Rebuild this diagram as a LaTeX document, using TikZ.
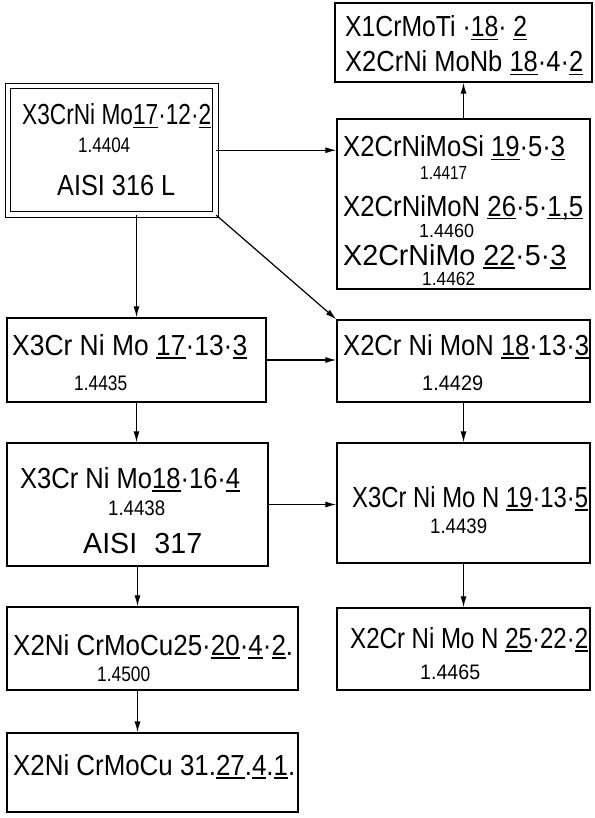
\documentclass[tikz,border=0pt]{standalone}
\usepackage{fontspec}
\setmainfont{Liberation Sans}
\usetikzlibrary{arrows.meta}
\newcommand\uln[1]{\setbox0\hbox{#1}\rlap{\rule[-3.5pt]{\wd0}{1.2pt}}\box0}
\newcommand\fw[2]{\resizebox{#1}{\height}{#2}}
\begin{document}
\begin{tikzpicture}[x=1pt,y=-1pt,
  box/.style={draw,line width=1.3pt,inner sep=0pt},
  big/.style={inner sep=0pt,anchor=base west,font=\fontsize{29}{31}\selectfont},
  small/.style={inner sep=0pt,anchor=base west,font=\fontsize{21}{23}\selectfont},
  smaller/.style={inner sep=0pt,anchor=base west,font=\fontsize{19}{21}\selectfont},
  arr/.style={line width=1.2pt,-{Latex[length=11pt,width=6pt]}}]
\useasboundingbox (0,0) rectangle (594,818);
% boxes
\node[box,double,double distance=4.2pt,minimum width=207.5pt,minimum height=128.5pt] (b1) at (111.75,150.25) {};
\node[box,minimum width=257pt,minimum height=79pt] (b2) at (463.5,42.5) {};
\node[box,minimum width=253pt,minimum height=170pt] (b3) at (463.5,204) {};
\node[box,minimum width=259pt,minimum height=84pt] (b5) at (136.5,360) {};
\node[box,minimum width=253pt,minimum height=82pt] (b6) at (463.5,361) {};
\node[box,minimum width=261pt,minimum height=123pt] (b7) at (137.5,504.5) {};
\node[box,minimum width=253pt,minimum height=120pt] (b8) at (463.5,503) {};
\node[box,minimum width=291pt,minimum height=83pt] (b9) at (152.5,648.5) {};
\node[box,minimum width=253pt,minimum height=82pt] (b10) at (463.5,649) {};
\node[box,minimum width=291pt,minimum height=79pt] (b11) at (152.5,772.5) {};
% texts
\node[big] (t1a) at (22,125) {\fw{189pt}{X3CrNi Mo\uln{17}·12·\uln{2}}};
\node[small] (t1b) at (78,153) {\fw{52pt}{1.4404}};
\node[big] (t1c) at (57,196) {\fw{118pt}{AISI 316 L}};
\node[big] (t2a) at (345,37) {\fw{182pt}{X1CrMoTi ·\uln{18} · \uln{2}}};
\node[big] (t2b) at (345,72) {\fw{238pt}{X2CrNi MoNb \uln{18}·4·\uln{2}}};
\node[big] (t3a) at (343,157) {\fw{222pt}{X2CrNiMoSi \uln{19}·5·\uln{3}}};
\node[smaller] (t3b) at (420,180) {\fw{47pt}{1.4417}};
\node[big] (t3c) at (343,216) {\fw{240pt}{X2CrNiMoN \uln{26}·5·\uln{1,5}}};
\node[smaller] (t3d) at (419,237) {\fw{55pt}{1.4460}};
\node[big] (t3e) at (343,265) {\fw{223pt}{X2CrNiMo \uln{22}·5·\uln{3}}};
\node[smaller] (t3f) at (422,285) {\fw{53pt}{1.4462}};
\node[big] (t5a) at (12,355) {\fw{235pt}{X3Cr Ni Mo \uln{17}·13·\uln{3}}};
\node[small] (t5b) at (74,390) {\fw{53pt}{1.4435}};
\node[big] (t6a) at (343,355) {\fw{246pt}{X2Cr Ni MoN \uln{18}·13·\uln{3}}};
\node[small] (t6b) at (422,390) {\fw{61pt}{1.4429}};
\node[big] (t7a) at (20,488) {\fw{220pt}{X3Cr Ni Mo\uln{18}·16·\uln{4}}};
\node[small] (t7b) at (108,515) {\fw{57pt}{1.4438}};
\node[big] (t7c) at (83,553) {\fw{119pt}{AISI\hspace{0.6em}317}};
\node[big] (t8a) at (352,507) {\fw{236pt}{X3Cr Ni Mo N \uln{19}·13·\uln{5}}};
\node[small] (t8b) at (430,533) {\fw{57pt}{1.4439}};
\node[big] (t9a) at (13,655) {\fw{280pt}{X2Ni CrMoCu25·\uln{20}·\uln{4}·\uln{2}.}};
\node[small] (t9b) at (97,681) {\fw{53pt}{1.4500}};
\node[big] (t10a) at (350,648) {\fw{238pt}{X2Cr Ni Mo N \uln{25}·22·\uln{2}}};
\node[small] (t10b) at (420,679) {\fw{60pt}{1.4465}};
\node[big] (t11a) at (13,775) {\fw{282pt}{X2Ni CrMoCu 31.\uln{27}.\uln{4}.\uln{1}.}};
% arrows
\draw[arr] (b1.east) -- (b1.east -| b3.west);
\draw[arr] (b3.north) -- (b2.south);
\draw[arr] (b1.south -| b5.north) -- (b5.north);
\draw[arr] (b1.south east) -- (b6.north west);
\draw[arr] (b5.east) -- (b5.east -| b6.west);
\draw[arr] (b5.south) -- (b5.south |- b7.north);
\draw[arr] (b6.south) -- (b8.north);
\draw[arr] (b7.east) -- (b7.east -| b8.west);
\draw[arr] (b7.south) -- (b7.south |- b9.north);
\draw[arr] (b8.south) -- (b10.north);
\draw[arr] (b9.south -| b7.south) -- (b11.north -| b7.south);
\end{tikzpicture}
\end{document}
